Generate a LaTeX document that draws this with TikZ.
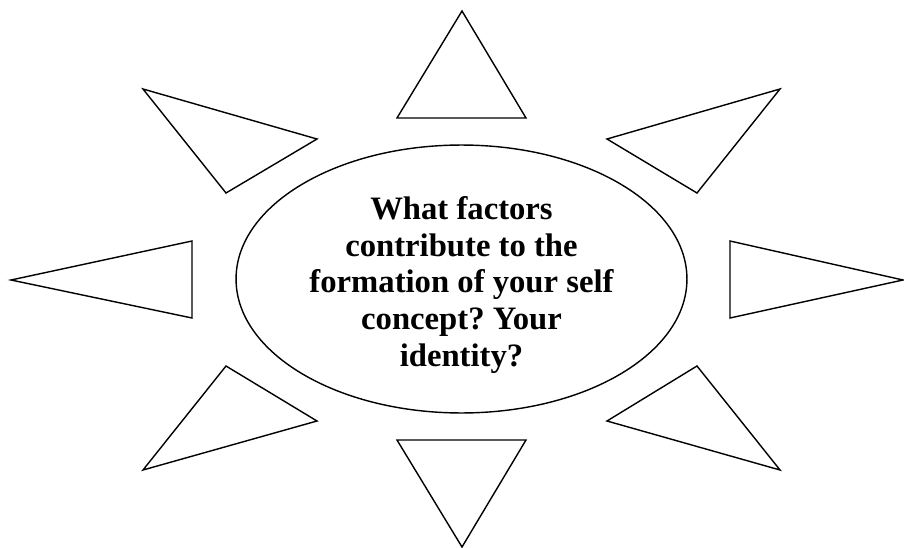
\documentclass[tikz,border=0pt]{standalone}
\usepackage{fontspec}
\setmainfont{Liberation Serif}
\usetikzlibrary{shapes.geometric}
\tikzset{ray/.style={draw,line width=0.8pt,line join=miter}}
\frenchspacing
\begin{document}
\begin{tikzpicture}[x=0.02cm,y=-0.02cm]
            \useasboundingbox (0,0) rectangle (904,548);
            \node[ellipse,draw,line width=0.8pt,minimum width=9.02cm,minimum height=5.36cm,inner sep=0pt] (core) at (461.5,279) {};
            \node[align=center,font=\fontsize{18.6}{21}\selectfont\bfseries] (question) at (461.5,285)
                {What factors\\contribute to the\\formation of your self\\concept? Your\\identity?};
            \draw[ray] (397,118) -- (462,11) -- (526,118) -- cycle;
            \draw[ray] (143,89) -- (317,139) -- (226,193) -- cycle;
            \draw[ray] (780,89) -- (607,139) -- (697,193) -- cycle;
            \draw[ray] (11,280) -- (192,241) -- (192,318) -- cycle;
            \draw[ray] (903,280) -- (730,241) -- (730,318) -- cycle;
            \draw[ray] (143,470) -- (226,366) -- (317,421) -- cycle;
            \draw[ray] (780,470) -- (697,366) -- (607,421) -- cycle;
            \draw[ray] (397,440) -- (526,440) -- (462,547) -- cycle;
        \end{tikzpicture}
\end{document}
